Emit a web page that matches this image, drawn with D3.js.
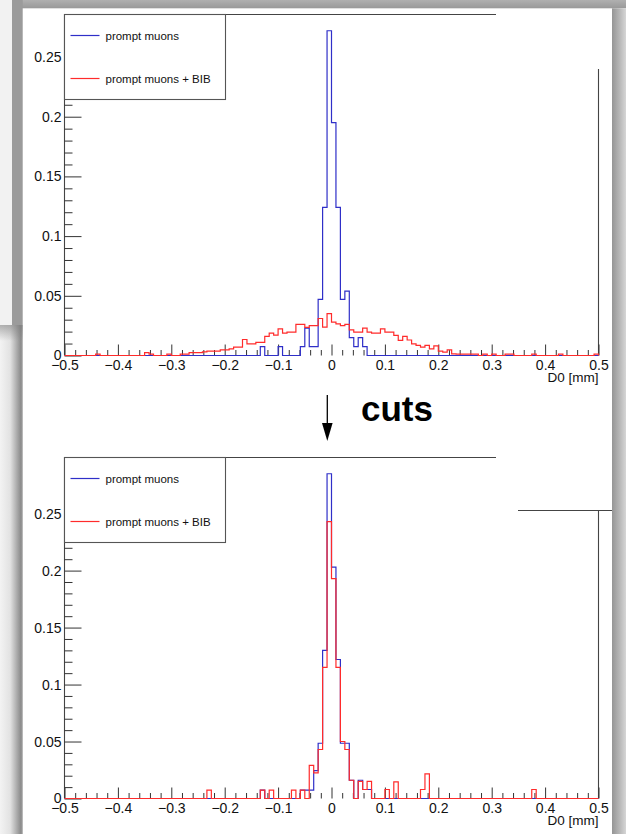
<!DOCTYPE html>
<html>
<head>
<meta charset="utf-8">
<script src="https://cdn.jsdelivr.net/npm/d3@7"></script>
<style>
  html, body { margin: 0; padding: 0; background: #fff; }
  svg { display: block; font-family: "Liberation Sans", Arial, Helvetica, sans-serif; }
</style>
</head>
<body>
<div id="chart"></div>
<script>
// D0 of reconstructed muon tracks, 120 bins between -0.5 and 0.5 mm (unit area)
const binRange = [-0.5, 0.5];
const nBins = 120;

const xTicks = [-0.5, -0.4, -0.3, -0.2, -0.1, 0, 0.1, 0.2, 0.3, 0.4, 0.5];
const xTickLabels = ['\u22120.5', '\u22120.4', '\u22120.3', '\u22120.2', '\u22120.1', '0', '0.1', '0.2', '0.3', '0.4', '0.5'];
const yTicks = [0, 0.05, 0.1, 0.15, 0.2, 0.25];
const yTickLabels = ['0', '0.05', '0.1', '0.15', '0.2', '0.25'];
const seriesNames = ['prompt muons', 'prompt muons + BIB'];
const xTitle = 'D0 [mm]';
const arrowLabel = 'cuts';

// before cuts
const promptBefore = [
  0, 0, 0, 0, 0, 0, 0, 0, 0, 0, 0, 0,
  0, 0, 0, 0, 0, 0, 0, 0, 0, 0, 0, 0,
  0, 0, 0, 0, 0, 0, 0, 0, 0, 0, 0, 0,
  0, 0, 0, 0, 0, 0, 0, 0, 0.0075, 0, 0, 0,
  0.0075, 0, 0, 0, 0, 0.0075, 0.023, 0.0075, 0.0075, 0.047, 0.124, 0.272,
  0.195, 0.124, 0.047, 0.054, 0.015, 0.0075, 0.015, 0.0075, 0, 0, 0, 0,
  0, 0, 0, 0, 0, 0, 0, 0, 0, 0, 0, 0,
  0, 0, 0, 0, 0, 0, 0, 0, 0, 0, 0, 0,
  0, 0, 0, 0, 0, 0, 0, 0, 0, 0, 0, 0,
  0, 0, 0, 0, 0, 0, 0, 0, 0, 0, 0, 0
];
const bibBefore = [
  0, 0, 0, 0, 0, 0, 0, 0.0012, 0, 0, 0, 0,
  0, 0, 0, 0, 0, 0, 0.0024, 0.0012, 0, 0, 0, 0.0012,
  0, 0, 0.0012, 0.0012, 0.0024, 0.0024, 0.0024, 0.003, 0.0036, 0.0036, 0.0036, 0.0047,
  0.0047, 0.0056, 0.007, 0.007, 0.0134, 0.0098, 0.0098, 0.011, 0.011, 0.016, 0.0187, 0.017,
  0.0223, 0.0187, 0.0196, 0.0196, 0.026, 0.026, 0.0235, 0.025, 0.025, 0.031, 0.0237, 0.035,
  0.0279, 0.0265, 0.0251, 0.026, 0.0215, 0.0196, 0.0196, 0.0229, 0.0196, 0.0187, 0.0187, 0.0223,
  0.0196, 0.0196, 0.0168, 0.0126, 0.016, 0.013, 0.0098, 0.0084, 0.007, 0.0084, 0.0056, 0.008,
  0.0036, 0.0028, 0.0047, 0.0014, 0.0012, 0.0012, 0.0012, 0.0012, 0.0012, 0, 0.0012, 0,
  0.0012, 0, 0, 0.0012, 0.0012, 0, 0, 0, 0, 0.0012, 0, 0,
  0, 0, 0, 0.0012, 0, 0, 0, 0, 0, 0, 0, 0.0012
];

// after cuts
const promptAfter = [
  0, 0, 0, 0, 0, 0, 0, 0, 0, 0, 0, 0,
  0, 0, 0, 0, 0, 0, 0, 0, 0, 0, 0, 0,
  0, 0, 0, 0, 0, 0, 0, 0, 0, 0, 0, 0,
  0, 0, 0, 0, 0, 0, 0, 0, 0.0073, 0, 0, 0,
  0, 0, 0, 0, 0, 0.0073, 0.0073, 0.0073, 0.0245, 0.0485, 0.130, 0.285,
  0.203, 0.122, 0.0485, 0.0485, 0.016, 0, 0.016, 0.0079, 0.0079, 0, 0, 0,
  0, 0, 0, 0, 0, 0, 0, 0, 0, 0, 0, 0,
  0, 0, 0, 0, 0, 0, 0, 0, 0, 0, 0, 0,
  0, 0, 0, 0, 0, 0, 0, 0, 0, 0, 0, 0,
  0, 0, 0, 0, 0, 0, 0, 0, 0, 0, 0, 0
];
const bibAfter = [
  0, 0, 0, 0, 0, 0, 0, 0, 0, 0, 0, 0,
  0, 0, 0, 0, 0, 0, 0, 0, 0, 0, 0, 0,
  0, 0, 0, 0, 0, 0, 0, 0, 0.0073, 0, 0, 0,
  0, 0, 0, 0, 0, 0, 0, 0, 0.0073, 0, 0.0073, 0,
  0, 0, 0, 0.0073, 0, 0.0073, 0, 0.029, 0.0225, 0.043, 0.115, 0.243,
  0.193, 0.115, 0.05, 0.043, 0.016, 0, 0.015, 0.0079, 0.015, 0, 0, 0,
  0.0079, 0, 0.0146, 0, 0, 0, 0, 0, 0.0079, 0.0216, 0, 0,
  0, 0, 0, 0, 0, 0, 0, 0, 0, 0, 0, 0,
  0, 0, 0, 0, 0, 0, 0, 0, 0, 0.0079, 0, 0,
  0, 0, 0, 0, 0, 0, 0, 0, 0, 0, 0, 0
];

const W = 626, H = 834;
const blue = '#2f2fc8', red = '#ff2b2b';

const svg = d3.select('#chart').append('svg').attr('width', W).attr('height', H);
const defs = svg.append('defs');

function gradient(id, stops, vertical) {
  const g = defs.append('linearGradient').attr('id', id)
    .attr('x1', 0).attr('y1', 0).attr('x2', vertical ? 0 : 1).attr('y2', vertical ? 1 : 0);
  stops.forEach(s => g.append('stop').attr('offset', s[0]).attr('stop-color', s[1]).attr('stop-opacity', s[2] == null ? 1 : s[2]));
}
gradient('rightShadow', [[0, '#959595'], [0.5, '#b4b4b4'], [1, '#d6d6d6']]);
gradient('leftShadow', [[0, '#f3f3f3'], [0.45, '#e2e2e2'], [0.9, '#8e8e8e'], [1, '#9a9a9a']]);
gradient('topShadow', [[0, '#7a7a7a', 0.55], [1, '#7a7a7a', 0]], true);
gradient('topStrip', [[0, '#b0b0b0'], [1, '#999999']], true);

// window frames / shadows around the two screenshots
svg.append('rect').attr('width', W).attr('height', H).attr('fill', '#fff');
svg.append('rect').attr('x', 0).attr('y', 0).attr('width', 12).attr('height', 325).attr('fill', '#f2f2f2');
svg.append('rect').attr('x', 12).attr('y', 0).attr('width', W - 12).attr('height', 8.3).attr('fill', 'url(#topStrip)');
svg.append('rect').attr('x', 12).attr('y', 0).attr('width', 10.7).attr('height', 325).attr('fill', '#9b9b9b');
svg.append('rect').attr('x', 612).attr('y', 8.3).attr('width', 14).attr('height', H).attr('fill', 'url(#rightShadow)');
svg.append('rect').attr('x', 0).attr('y', 325).attr('width', 22.7).attr('height', H - 325).attr('fill', 'url(#leftShadow)');
svg.append('rect').attr('x', 0).attr('y', 325).attr('width', 22.7).attr('height', 16).attr('fill', 'url(#topShadow)');

const x = d3.scaleLinear().domain(binRange).range([64.5, 598.5]);
const edges = d3.range(nBins + 1).map(i => binRange[0] + i * (binRange[1] - binRange[0]) / nBins);
const xMinor = d3.range(-0.5, 0.5001, 0.02).filter(v => Math.abs(v * 10 - Math.round(v * 10)) > 1e-6);

const panels = [
  { top: 14, base: 355, series: [promptBefore, bibBefore], frameRightFrom: 69, boxLine: null },
  { top: 457, base: 798, series: [promptAfter, bibAfter], frameRightFrom: 510.5, boxLine: [518, 612] }
];

panels.forEach(p => {
  const g = svg.append('g');
  const yMax = 1.05 * d3.max(p.series.flat());
  const y = d3.scaleLinear().domain([0, yMax]).range([p.base + 0.5, p.top + 0.5]);
  const yMinor = d3.range(0, yMax, 0.01).filter(v => Math.abs(v * 20 - Math.round(v * 20)) > 1e-6);

  // frame (partly hidden on top right, like the original)
  g.append('path')
    .attr('d', `M${x(-0.5)},${p.base}V${p.top + 0.5}H496`)
    .attr('fill', 'none').attr('stroke', '#444').attr('stroke-width', 1.1);
  g.append('path')
    .attr('d', `M${x(0.5)},${p.frameRightFrom}V${p.base + 0.5}`)
    .attr('fill', 'none').attr('stroke', '#444').attr('stroke-width', 1.1);
  if (p.boxLine) {
    g.append('path')
      .attr('d', `M${p.boxLine[0]},${p.frameRightFrom}H${p.boxLine[1]}`)
      .attr('stroke', '#444').attr('stroke-width', 1.1);
  }

  // x axis, ticks pointing up into the frame
  const gx = g.append('g').attr('transform', `translate(0,${p.base + 0.5})`);
  gx.call(d3.axisBottom(x).tickValues(xMinor).tickSize(-5.5).tickFormat(''));
  gx.append('g').call(d3.axisBottom(x).tickValues(xTicks).tickSize(-11).tickPadding(4.5)
    .tickFormat((d, i) => xTickLabels[i]));
  gx.selectAll('.domain').remove();
  gx.selectAll('line').attr('stroke', '#333');
  gx.selectAll('text').attr('font-size', 14).attr('fill', '#111');
  gx.attr('font-family', null);
  gx.selectAll('g').attr('font-family', null);

  // y axis
  const gy = g.append('g').attr('transform', `translate(${x(-0.5)},0)`);
  gy.call(d3.axisLeft(y).tickValues(yMinor).tickSize(-8).tickFormat(''));
  gy.append('g').call(d3.axisLeft(y).tickValues(yTicks).tickSize(-17).tickPadding(3)
    .tickFormat((d, i) => yTickLabels[i]));
  gy.selectAll('.domain').remove();
  gy.selectAll('line').attr('stroke', '#333');
  gy.selectAll('text').attr('font-size', 14).attr('fill', '#111');
  gy.attr('font-family', null);
  gy.selectAll('g').attr('font-family', null);

  // histograms, drawn as ROOT style step outlines
  const step = d3.line().x(d => x(d[0])).y(d => y(d[1])).curve(d3.curveStepAfter);
  [blue, red].forEach((c, k) => {
    const vals = p.series[k];
    const pts = [[edges[0], 0]].concat(vals.map((v, i) => [edges[i], v]), [[edges[nBins], 0]]);
    g.append('path').attr('d', step(pts))
      .attr('fill', 'none').attr('stroke', c).attr('stroke-width', 1.2);
  });

  // legend
  const lg = g.append('g').attr('transform', `translate(${x(-0.5)},${p.top + 0.5})`);
  lg.append('rect').attr('width', 161).attr('height', 85)
    .attr('fill', '#fff').attr('stroke', '#555').attr('stroke-width', 1.1);
  seriesNames.forEach((name, k) => {
    const ly = 21 + k * 43;
    lg.append('line').attr('x1', 6).attr('x2', 35).attr('y1', ly).attr('y2', ly)
      .attr('stroke', k === 0 ? blue : red).attr('stroke-width', 1.2);
    lg.append('text').attr('x', 41).attr('y', ly).attr('dy', '0.36em')
      .attr('font-size', 11.5).attr('fill', '#111').text(name);
  });

  g.append('text').attr('x', x(0.5)).attr('y', p.base + 27)
    .attr('text-anchor', 'end').attr('font-size', 13.5).attr('fill', '#111').text(xTitle);
});

// arrow + "cuts" between the two plots
svg.append('line').attr('x1', 327.3).attr('x2', 327.3).attr('y1', 395).attr('y2', 426)
  .attr('stroke', '#000').attr('stroke-width', 1.3);
svg.append('path').attr('d', 'M322,423L332.6,423L327.3,441Z').attr('fill', '#000');
svg.append('text').attr('x', 361).attr('y', 421).attr('font-size', 35).attr('font-weight', 'bold')
  .attr('fill', '#000').text(arrowLabel);
</script>
</body>
</html>
